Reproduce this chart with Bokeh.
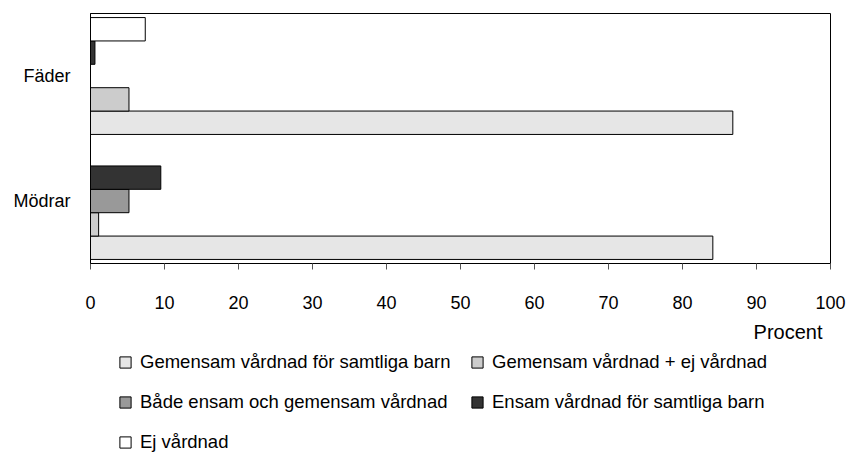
from bokeh.plotting import figure
from bokeh.layouts import column
from bokeh.models import (ColumnDataSource, FactorRange, Range1d, Legend, LegendItem,
                          SingleIntervalTicker, Title)
from bokeh.transform import dodge
from bokeh.embed import file_html
from bokeh.resources import INLINE

# ---- data ----
categories = ["Mödrar", "Fäder"]
series_names = [
    "Gemensam vårdnad för samtliga barn",
    "Gemensam vårdnad + ej vårdnad",
    "Både ensam och gemensam vårdnad",
    "Ensam vårdnad för samtliga barn",
    "Ej vårdnad",
]
gemensam_samtliga = [84.1, 86.8]
gemensam_ej = [1.1, 5.2]
bade_ensam_gemensam = [5.2, 0.0]
ensam_samtliga = [9.5, 0.6]
ej_vardnad = [0.0, 7.4]
series_values = [gemensam_samtliga, gemensam_ej, bade_ensam_gemensam, ensam_samtliga, ej_vardnad]
colors = ["#e6e6e6", "#cccccc", "#999999", "#333333", "#ffffff"]

FONT = "Liberation Sans"

src = ColumnDataSource(dict(cat=categories, **{f"s{i}": v for i, v in enumerate(series_values)}))

p = figure(frame_width=740, frame_height=250,
           y_range=FactorRange(*categories, range_padding=0),
           x_range=Range1d(0, 100),
           output_backend="svg", toolbar_location=None,
           min_border_left=90, min_border_right=18, min_border_top=13, min_border_bottom=0)

bar_h = 0.187
for i, name in enumerate(series_names):
    p.hbar(y=dodge("cat", (i - 2) * bar_h, range=p.y_range), right=f"s{i}", left=0,
           height=bar_h, source=src, fill_color=colors[i], line_color="black", line_width=1)

p.xgrid.grid_line_color = None
p.ygrid.grid_line_color = None
p.outline_line_color = "black"
p.outline_line_width = 1
p.background_fill_color = "white"
p.border_fill_color = "white"

xa = p.xaxis[0]
xa.ticker = SingleIntervalTicker(interval=10)
xa.axis_line_color = "black"
xa.axis_line_width = 1
xa.major_tick_out = 6
xa.major_tick_in = 0
xa.major_tick_line_color = "#555555"
xa.minor_tick_line_color = None
xa.major_label_standoff = 26
xa.major_label_text_font = FONT
xa.major_label_text_font_size = "18px"
xa.major_label_text_color = "black"

ya = p.yaxis[0]
ya.axis_line_color = "black"
ya.major_tick_out = 0
ya.major_tick_in = 0
ya.major_tick_line_color = None
ya.minor_tick_line_color = None
ya.major_label_standoff = 20
ya.major_label_text_font = FONT
ya.major_label_text_font_size = "18px"
ya.major_label_text_color = "black"

p.add_layout(Title(text="Procent", align="right", offset=8, standoff=15,
                   text_font=FONT, text_font_size="20px", text_font_style="normal",
                   text_color="black"), "below")

# ---- legend panel (separate figure, same data; its bars are hidden) ----
lp = figure(frame_width=740, frame_height=104,
            y_range=FactorRange(*categories, range_padding=0),
            x_range=Range1d(0, 100),
            output_backend="svg", toolbar_location=None,
            x_axis_location=None, y_axis_location=None,
            min_border_left=90, min_border_right=18, min_border_top=0, min_border_bottom=0)
lp.xgrid.grid_line_color = None
lp.ygrid.grid_line_color = None
lp.outline_line_color = None

legend_renderers = []
for i, name in enumerate(series_names):
    r = lp.hbar(y=dodge("cat", (i - 2) * bar_h, range=lp.y_range), right=f"s{i}", left=0,
                height=bar_h, source=src, fill_color=colors[i], line_color="black",
                line_width=1, visible=False)
    legend_renderers.append(r)

items = [LegendItem(label=n, renderers=[r]) for n, r in zip(series_names, legend_renderers)]
legend = Legend(items=items, orientation="horizontal", ncols=2, location=(28, 1),
                margin=0, padding=0, spacing=18, label_standoff=8, label_width=312,
                glyph_width=14, glyph_height=14, label_height=20,
                label_text_font=FONT, label_text_font_size="18.5px", label_text_color="black",
                border_line_color=None, background_fill_alpha=0, inactive_fill_alpha=0)
lp.add_layout(legend, "center")

layout = column(p, lp, spacing=0)
open("out.html", "w").write(file_html(layout, INLINE))
